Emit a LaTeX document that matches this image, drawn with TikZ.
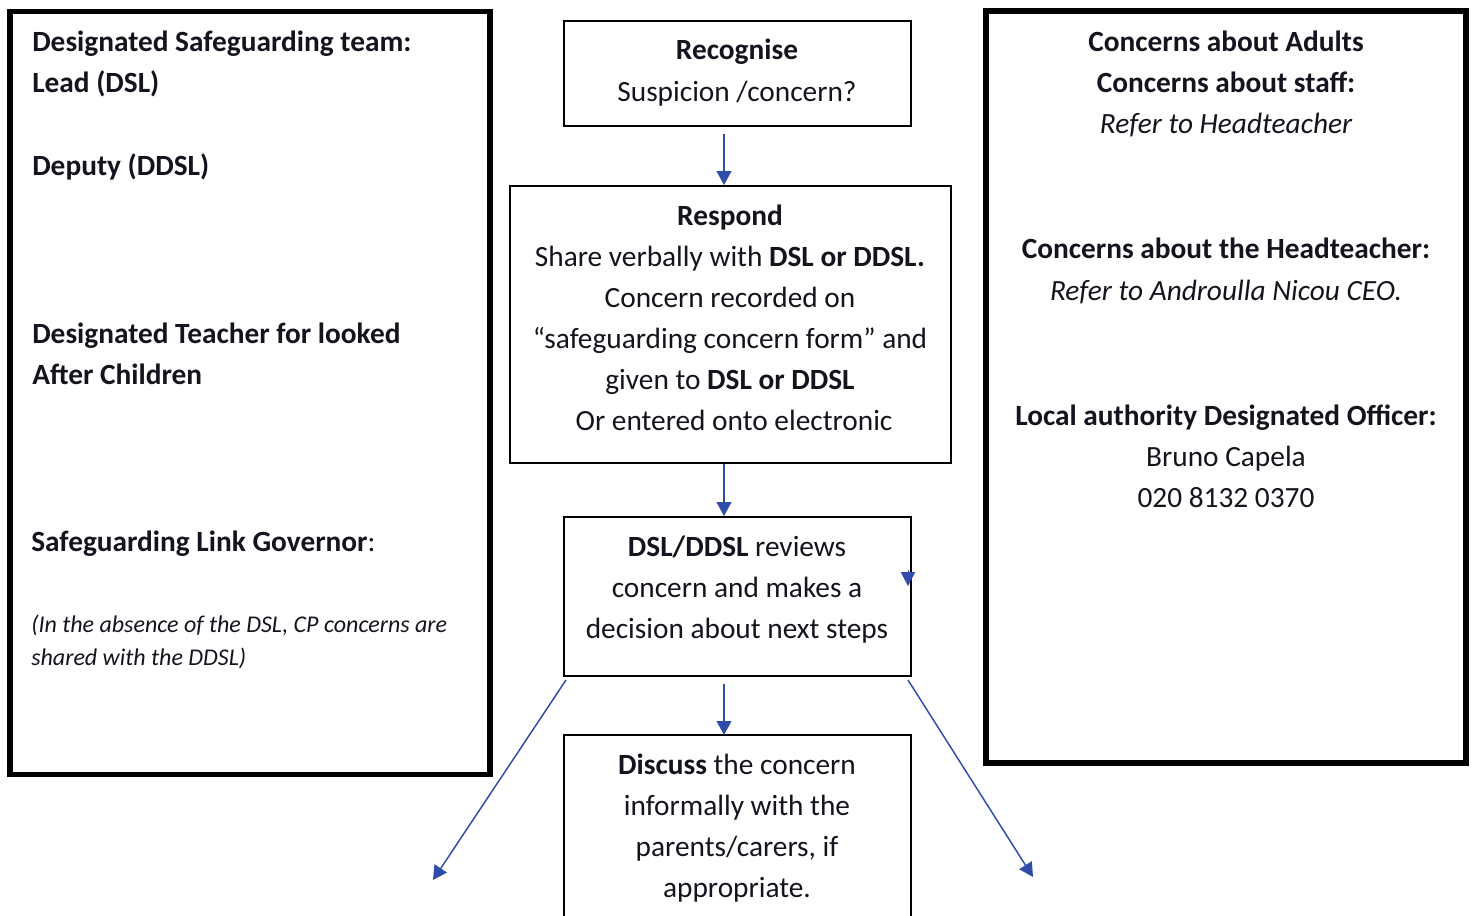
\documentclass[tikz,border=0pt]{standalone}
\usepackage{fontspec}
\setmainfont{Carlito}
\usetikzlibrary{arrows.meta}
\definecolor{arrblue}{RGB}{47,77,168}
\definecolor{txt}{RGB}{20,20,30}
\tikzset{
  thickbox/.style={draw=black,line width=3.8pt,inner sep=0pt},
  thinbox/.style={draw=black,line width=1.4pt,inner sep=0pt},
  ln/.style={anchor=mid,inner sep=0pt,text=txt,font=\fontsize{22}{26}\selectfont},
  lnl/.style={ln,anchor=mid west},
  sm/.style={lnl,font=\fontsize{18}{22}\selectfont\itshape},
  arr/.style={draw=arrblue,line width=1.5pt,-{Triangle[length=10.5pt,width=11pt]}},
  darr/.style={draw=arrblue,line width=1.1pt,-{Triangle[length=10.5pt,width=11pt]}}
}
\begin{document}
\begin{tikzpicture}[x=0.75pt,y=-0.75pt]
\useasboundingbox (0,0) rectangle (1473,916);
% boxes
\node[thickbox,minimum width=480*0.75pt,minimum height=763*0.75pt] (left) at (250,393) {};
\node[thickbox,minimum width=480*0.75pt,minimum height=752*0.75pt] (right) at (1226,387) {};
\node[thinbox,minimum width=347*0.75pt,minimum height=105*0.75pt] (recog) at (737.5,73.5) {};
\node[thinbox,minimum width=441*0.75pt,minimum height=277*0.75pt] (resp) at (730.5,324.5) {};
\node[thinbox,minimum width=347*0.75pt,minimum height=159*0.75pt] (rev) at (737.5,596.5) {};
\draw[line width=1.4pt] (564,940) |- (911,735) -- (911,940);
\coordinate (disctop) at (724,735);
% left texts
\node[lnl] (l1) at (32,48) {\bfseries Designated Safeguarding team:};
\node[lnl] (l2) at (32,89) {\bfseries Lead (DSL)};
\node[lnl] (l3) at (32,172) {\bfseries Deputy (DDSL)};
\node[lnl] (l4) at (32,340) {\bfseries Designated Teacher for looked};
\node[lnl] (l5) at (32,381) {\bfseries After Children};
\node[lnl] (l6) at (31,548) {\textbf{Safeguarding Link Governor}:};
\node[sm] (l7) at (31,629) {(In the absence of the DSL, CP concerns are};
\node[sm] (l8) at (31,662) {shared with the DDSL)};
% recognise
\node[ln] (r1) at (737,56) {\bfseries Recognise};
\node[ln] (r2) at (737,98) {Suspicion /concern?};
% respond
\node[ln] (p1) at (730,222) {\bfseries Respond};
\node[ln] (p2) at (730,263) {Share verbally with \textbf{DSL or DDSL.}};
\node[ln] (p3) at (730,304) {Concern recorded on};
\node[ln] (p4) at (730,345) {“safeguarding concern form” and};
\node[ln] (p5) at (730,386) {given to \textbf{DSL or DDSL}};
\node[ln] (p6) at (734,427) {Or entered onto electronic};
% review
\node[ln] (v1) at (737,553) {\textbf{DSL/DDSL} reviews};
\node[ln] (v2) at (737,594) {concern and makes a};
\node[ln] (v3) at (737,635) {decision about next steps};
% discuss
\node[ln] (d1) at (737,771) {\textbf{Discuss} the concern};
\node[ln] (d2) at (737,812) {informally with the};
\node[ln] (d3) at (737,853) {parents/carers, if};
\node[ln] (d4) at (737,894) {appropriate.};
% right texts
\node[ln] (q1) at (1226,48) {\bfseries Concerns about Adults};
\node[ln] (q2) at (1226,89) {\bfseries Concerns about staff:};
\node[ln] (q3) at (1226,130) {\itshape Refer to Headteacher};
\node[ln] (q4) at (1226,255) {\bfseries Concerns about the Headteacher:};
\node[ln] (q5) at (1226,297) {\itshape Refer to Androulla Nicou CEO.};
\node[ln] (q6) at (1226,422) {\bfseries Local authority Designated Officer:};
\node[ln] (q7) at (1226,463) {Bruno Capela};
\node[ln] (q8) at (1226,504) {020 8132 0370};
% arrows
\draw[arr,shorten <=7*0.75pt] (recog.south -| disctop) -- (resp.north -| disctop);
\draw[arr] (resp.south -| disctop) -- (rev.north -| disctop);
\draw[arr,shorten <=7*0.75pt] (rev.south -| disctop) -- (disctop);
\coordinate (la) at (433,880);
\coordinate (ra) at (1033,877);
\coordinate (lb) at (566,680);
\coordinate (rb) at (908,680);
\draw[darr] (lb) -- (la);
\draw[darr] (rb) -- (ra);
\coordinate (st1) at (908,570);
\coordinate (st2) at (908,586);
\draw[arr,line width=0pt] (st1) -- (st2);
\end{tikzpicture}
\end{document}
